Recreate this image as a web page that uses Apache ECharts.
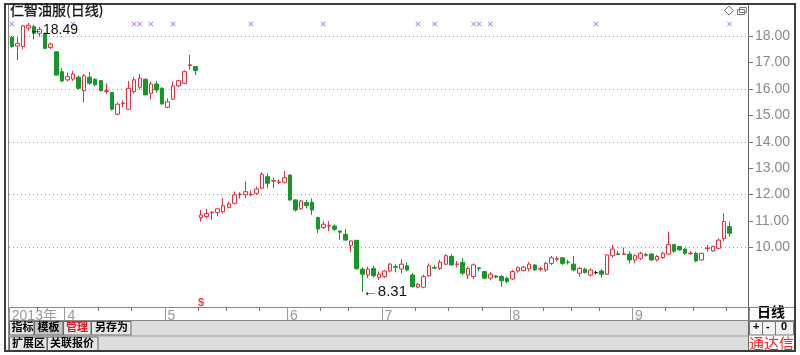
<!DOCTYPE html>
<html><head><meta charset="utf-8">
<script src="https://cdn.jsdelivr.net/npm/echarts@6/dist/echarts.min.js"></script>
<style>html,body{margin:0;padding:0;background:#fff}#c{width:800px;height:355px}</style>
</head><body><div id="c"></div>
<script>
// ---- trading days (month -> day numbers) ----
const marchDays = [18,19,20,21,22,25,26,27,28,29];
const aprilDays = [1,2,3,8,9,10,11,12,15,16,17,18,19,22,23,24,25,26];
const mayDays = [2,3,6,7,8,9,10,13,14,15,16,17,20,21,22,23,24,27,28,29,30,31];
const juneDays = [3,4,5,6,7,13,14,17,18,19,20,21,24,25,26,27,28];
const julyDays = [1,2,3,4,5,8,9,10,11,12,15,16,17,18,19,22,23,24,25,26,29,30,31];
const augDays = [1,2,5,6,7,8,9,12,13,14,15,16,19,20,21,22,23,26,27,28,29,30];
const sepDays = [2,3,4,5,6,9,10,11,12,13,16,17,18,23,24,25,26,27];

// ---- daily K values: [open, close, low, high] ----
const marchK = [[17.95,17.60,17.55,18.00],[17.62,17.72,17.09,17.95],[17.60,18.38,17.50,18.42],[18.30,18.40,18.20,18.49],[18.35,18.10,17.87,18.42],[18.10,18.25,17.97,18.35],[18.10,17.53,17.50,18.12],[17.56,17.69,17.50,17.75],[17.40,16.52,16.50,17.42],[16.65,16.30,16.25,16.78]];
const aprilK = [[16.34,16.46,16.28,16.62],[16.37,16.56,16.30,16.68],[16.44,16.02,15.97,16.50],[15.93,16.49,15.48,16.56],[16.44,16.21,16.15,16.63],[16.36,16.15,16.10,16.40],[16.31,15.93,15.90,16.33],[15.90,15.93,15.80,16.20],[15.86,15.23,15.18,15.88],[15.04,15.42,15.00,15.48],[15.44,15.46,15.30,15.56],[15.23,16.02,15.20,16.30],[15.89,16.34,15.82,16.45],[16.06,16.40,15.98,16.56],[16.36,15.77,15.77,16.40],[15.83,16.18,15.60,16.27],[16.18,15.96,15.85,16.30],[16.02,15.43,15.40,16.06]];
const mayK = [[15.30,15.51,15.26,15.64],[15.61,16.11,15.58,16.27],[16.11,16.31,16.07,16.34],[16.21,16.65,16.18,16.70],[16.88,16.91,16.72,17.28],[16.84,16.69,16.52,16.86],[11.13,11.23,10.98,11.42],[11.17,11.29,11.10,11.46],[11.32,11.34,11.05,11.36],[11.33,11.46,11.18,11.50],[11.35,11.58,11.29,11.86],[11.51,11.65,11.48,11.72],[11.67,11.99,11.63,12.12],[12.00,12.02,11.85,12.09],[11.99,12.11,11.87,12.50],[11.99,12.01,11.93,12.16],[12.05,12.21,11.99,12.30],[12.24,12.77,12.21,12.85],[12.68,12.43,12.24,12.81],[12.51,12.53,12.24,12.64],[12.46,12.48,12.40,12.58],[12.47,12.64,12.43,12.90]];
const juneK = [[12.74,11.80,11.76,12.76],[11.80,11.42,11.36,11.82],[11.46,11.76,11.42,11.80],[11.70,11.58,11.48,11.80],[11.71,11.42,11.23,11.86],[11.13,10.70,10.54,11.17],[10.75,10.88,10.70,11.00],[10.81,10.83,10.62,11.00],[10.81,10.69,10.62,10.87],[10.62,10.58,10.30,10.64],[10.50,10.28,10.26,10.70],[10.07,10.25,9.84,10.27],[10.27,9.20,9.16,10.29],[9.18,8.99,8.31,9.25],[8.96,9.18,8.84,9.28],[9.21,8.93,8.86,9.31],[8.87,8.99,8.77,9.09]];
const julyK = [[8.90,9.11,8.85,9.15],[9.11,9.37,9.06,9.42],[9.28,9.25,9.06,9.37],[9.19,9.37,9.02,9.55],[9.31,9.15,9.10,9.45],[8.96,8.52,8.48,9.03],[8.50,8.61,8.46,8.66],[8.50,8.90,8.46,8.97],[8.93,9.31,8.89,9.40],[9.24,9.22,9.21,9.35],[9.21,9.44,9.15,9.53],[9.37,9.69,9.34,9.75],[9.66,9.34,9.31,9.75],[9.36,9.38,9.25,9.49],[9.44,9.03,8.96,9.60],[8.96,9.21,8.81,9.28],[8.90,9.34,8.81,9.40],[9.23,9.20,9.10,9.24],[9.09,8.84,8.81,9.11],[8.84,8.99,8.77,9.07],[8.92,8.88,8.84,8.96],[8.90,8.74,8.52,8.96],[8.84,8.71,8.65,8.90]];
const augK = [[8.81,9.09,8.77,9.15],[9.11,9.24,9.05,9.28],[9.13,9.26,9.10,9.30],[9.19,9.37,9.10,9.45],[9.34,9.15,9.12,9.36],[9.18,9.20,9.10,9.27],[9.15,9.40,9.08,9.46],[9.40,9.61,9.34,9.68],[9.56,9.58,9.48,9.66],[9.61,9.40,9.34,9.64],[9.45,9.43,9.36,9.53],[9.37,9.15,9.10,9.68],[9.03,9.21,8.90,9.27],[9.18,9.05,9.02,9.24],[8.96,9.15,8.90,9.21],[9.05,9.05,8.99,9.11],[9.11,8.99,8.86,9.18],[8.99,9.72,8.96,9.75],[9.69,9.94,9.62,10.10],[9.76,9.73,9.72,9.86],[9.74,9.76,9.72,10.00],[9.75,9.53,9.40,9.86]];
const sepK = [[9.53,9.69,9.40,9.74],[9.59,9.78,9.53,9.84],[9.73,9.71,9.66,9.80],[9.75,9.53,9.50,9.78],[9.53,9.66,9.47,9.72],[9.62,9.78,9.56,9.84],[9.75,10.11,9.72,10.60],[10.11,9.86,9.80,10.13],[10.04,9.91,9.88,10.06],[9.94,9.78,9.72,9.97],[9.77,9.79,9.72,9.86],[9.78,9.49,9.44,9.84],[9.53,9.78,9.50,9.80],[9.96,9.98,9.84,10.10],[9.87,10.04,9.84,10.06],[9.97,10.28,9.94,10.34],[10.34,10.98,10.24,11.29],[10.79,10.54,10.41,10.98]];

// ---- axis labels / markers ----
const monthTickIdx = [0, 10, 28, 50, 67, 90, 112];
const monthTickLabels = ['2013年', '4', '5', '6', '7', '8', '9'];
const minorTickIdx = [5, 16, 22, 34, 39, 45, 56, 61, 73, 79, 85, 96, 101, 106, 118, 123, 129];
const priceTicks = [10, 11, 12, 13, 14, 15, 16, 17, 18];
const infoMineDates = ['2013-03-18','2013-04-02','2013-04-19','2013-04-22','2013-04-24','2013-05-03','2013-05-23','2013-06-14','2013-07-09','2013-07-12','2013-07-23','2013-07-24','2013-07-26','2013-08-22','2013-09-27'];
const exRightsDate = '2013-05-10';
const padSlots = ['p1', 'p2', 'p3'];

// ---- build ----
const pad = n => (n < 10 ? '0' : '') + n;
const monthList = [[3, marchDays], [4, aprilDays], [5, mayDays], [6, juneDays], [7, julyDays], [8, augDays], [9, sepDays]];
const dates = [];
monthList.forEach(([m, ds]) => ds.forEach(d => dates.push('2013-' + pad(m) + '-' + pad(d))));
const categories = dates.concat(padSlots);
const allK = [].concat(marchK, aprilK, mayK, juneK, julyK, augK, sepK);
const RED = '#ee2a3a', GREEN = '#17962a';
const kData = allK.map(k => k[0] === k[1]
  ? { value: k, itemStyle: { color: '#000', borderColor: '#000' } } : k);

const Y_MIN = 7.75, Y_MAX = 19.17;   // visible price window of the plot
const MARK_ROW = 18.45, EXR_ROW = 7.9;
const labelMap = {};
monthTickIdx.forEach((i, k) => labelMap[i] = monthTickLabels[k]);

const GRID_L = 9, GRID_R = 51;
const chart = echarts.init(document.getElementById('c'));
const BF = 'bold 11px "Noto Sans CJK SC"';
const txt = (x, y, s, o) => Object.assign({ type: 'text', x: x, y: y, style: Object.assign({ text: s, fill: '#000', font: BF }, o || {}) });
const rect = (x, y, w, h, fill, stroke) => ({ type: 'rect', shape: { x: x, y: y, width: w, height: h }, style: { fill: fill, stroke: stroke || null, lineWidth: 1 } });
const line = (x1, y1, x2, y2, c, w) => ({ type: 'line', shape: { x1: x1, y1: y1, x2: x2, y2: y2 }, style: { stroke: c, lineWidth: w || 1 } });

const graphics = [
  // toolbar rows
  rect(8, 320.5, 740, 15.5, '#dcdedd', null),
  rect(8, 336, 740, 15, '#dcdedd', null),
  rect(9.5, 321.5, 24.5, 13.5, '#e6e7e7', '#666'),
  rect(34.5, 321.5, 28.5, 13.5, '#c4c6c6', '#666'),
  rect(63.5, 321.5, 27.5, 13.5, '#e6e7e7', '#666'),
  rect(91.5, 321.5, 39.5, 13.5, '#e6e7e7', '#666'),
  rect(9.5, 337, 37.5, 13.5, '#e6e7e7', '#666'),
  rect(47.5, 337, 50.5, 13.5, '#e6e7e7', '#666'),
  txt(11.5, 321.5, '指标'), txt(37.5, 321.5, '模板'), txt(66, 321.5, '管理', { fill: '#e8151b' }), txt(95, 321.5, '另存为'),
  txt(12, 337, '扩展区'), txt(50, 337, '关联报价'),
  // right panel bottom
  txt(757, 305, '日线', { font: 'bold 14px "Noto Sans CJK SC"' }),
  rect(749.5, 321.5, 13, 13.5, '#f2f2f2', '#777'),
  rect(762.5, 321.5, 13, 13.5, '#f2f2f2', '#777'),
  rect(775.5, 321.5, 18, 13.5, '#f2f2f2', '#777'),
  txt(753, 321, '+', { font: 'bold 11px "Liberation Sans"' }),
  txt(766, 321, '-', { font: 'bold 11px "Liberation Sans"' }),
  txt(781, 321, '0', { font: 'bold 11px "Liberation Sans"' }),
  txt(749, 336, '通达信', { fill: '#ff2020', font: '15px "Noto Sans CJK SC"' }),
  // lines / frame
  line(8, 320.5, 794, 320.5, '#888'),
  line(8, 336, 748, 336, '#999'),
  line(748.5, 5, 748.5, 351, '#666'),
  line(8.5, 5, 8.5, 351, '#888'),
  line(748, 307.5, 794, 307.5, '#888'),
  { type: 'rect', shape: { x: 5, y: 4, width: 790, height: 347 }, style: { fill: null, stroke: '#3c3c3c', lineWidth: 2 } },
  // title
  txt(10, 3, '仁智油服(日线)', { font: '14px "Noto Sans CJK SC"', fill: '#111', stroke: '#111', lineWidth: 0.3 }),
  // icons
  { type: 'polygon', shape: { points: [[729, 6], [733.5, 10.5], [729, 15], [724.5, 10.5]] }, style: { fill: null, stroke: '#777', lineWidth: 1 } },
  rect(737.5, 9.5, 7, 5, '#fff', '#777'),
  rect(739.5, 7.5, 7, 5, null, '#777')
];

chart.setOption({
  animation: false,
  backgroundColor: '#fff',
  grid: [
    { left: GRID_L, right: GRID_R, top: 5, bottom: 48 },
    { left: GRID_L, right: GRID_R, top: 36, height: 211.5 }
  ],
  xAxis: [
    { gridIndex: 0, type: 'category', data: categories, boundaryGap: true, position: 'bottom',
      axisLine: { show: true, lineStyle: { color: '#888', width: 1 } },
      axisTick: { show: true, length: 13, interval: i => monthTickIdx.indexOf(i) >= 0, lineStyle: { color: '#999' } },
      axisLabel: { show: true, interval: i => labelMap[i] !== undefined, formatter: (v, i) => labelMap[i] || '',
        align: 'left', margin: 2, color: '#9a9a9a', fontSize: 14, fontFamily: '"Liberation Sans", "Noto Sans CJK SC"' },
      splitLine: { show: false } },
    { gridIndex: 0, type: 'category', data: categories, boundaryGap: true, position: 'bottom', offset: 0,
      axisLine: { show: false },
      axisTick: { show: true, length: 4, interval: i => minorTickIdx.indexOf(i) >= 0, lineStyle: { color: '#777' } },
      axisLabel: { show: false }, splitLine: { show: false } },
    { gridIndex: 1, type: 'category', data: ['x'], show: false }
  ],
  yAxis: [
    { gridIndex: 0, type: 'value', min: Y_MIN, max: Y_MAX, position: 'right', scale: true,
      axisLine: { show: false }, axisTick: { show: false }, axisLabel: { show: false }, splitLine: { show: false } },
    { gridIndex: 1, type: 'value', min: priceTicks[0], max: priceTicks[priceTicks.length - 1], interval: 1, position: 'right',
      axisLine: { show: false }, axisTick: { show: true, length: 4, lineStyle: { color: '#777' } },
      axisLabel: { show: true, margin: 6, color: '#8a8a8a', fontSize: 14, fontFamily: '"Liberation Sans"', formatter: v => v.toFixed(2) },
      splitLine: { show: false } },
    { gridIndex: 1, type: 'value', min: priceTicks[0], max: priceTicks[priceTicks.length - 1], interval: 2, position: 'right',
      axisLine: { show: false }, axisTick: { show: false }, axisLabel: { show: false },
      splitLine: { show: true, lineStyle: { color: '#9a9a9a', type: [1, 3], width: 1 } } }
  ],
  series: [
    { type: 'candlestick', xAxisIndex: 0, yAxisIndex: 0, data: kData, barWidth: 4,
      itemStyle: { color: '#fff', color0: GREEN, borderColor: RED, borderColor0: GREEN, borderWidth: 1 },
      markPoint: {
        symbol: 'rect', symbolSize: 1, itemStyle: { color: 'rgba(0,0,0,0)' }, animation: false,
        data: [
          { type: 'max', valueDim: 'highest', label: { show: true, position: 'right', distance: 0, offset: [0, 7], formatter: p => '←' + p.value, color: '#111', fontSize: 14, fontFamily: '"Liberation Sans"' } },
          { type: 'min', valueDim: 'lowest', label: { show: true, position: 'right', distance: 0, offset: [0, 0], formatter: p => '←' + p.value, color: '#111', fontSize: 15, fontFamily: '"Liberation Sans"' } }
        ]
      } },
    { type: 'scatter', xAxisIndex: 0, yAxisIndex: 0, data: infoMineDates.map(d => [d, MARK_ROW]),
      symbol: 'path://M0,1L1,0L5,4L9,0L10,1L6,5L10,9L9,10L5,6L1,10L0,9L4,5Z', symbolSize: 5,
      itemStyle: { color: '#8a3cf0' }, silent: true },
    { type: 'scatter', xAxisIndex: 0, yAxisIndex: 0, data: [[exRightsDate, EXR_ROW]], symbolSize: 0,
      label: { show: true, position: 'inside', formatter: '$', color: '#e8151b', fontSize: 11, fontWeight: 'bold', fontFamily: '"Liberation Sans"' } }
  ],
  graphic: graphics
});
</script></body></html>
